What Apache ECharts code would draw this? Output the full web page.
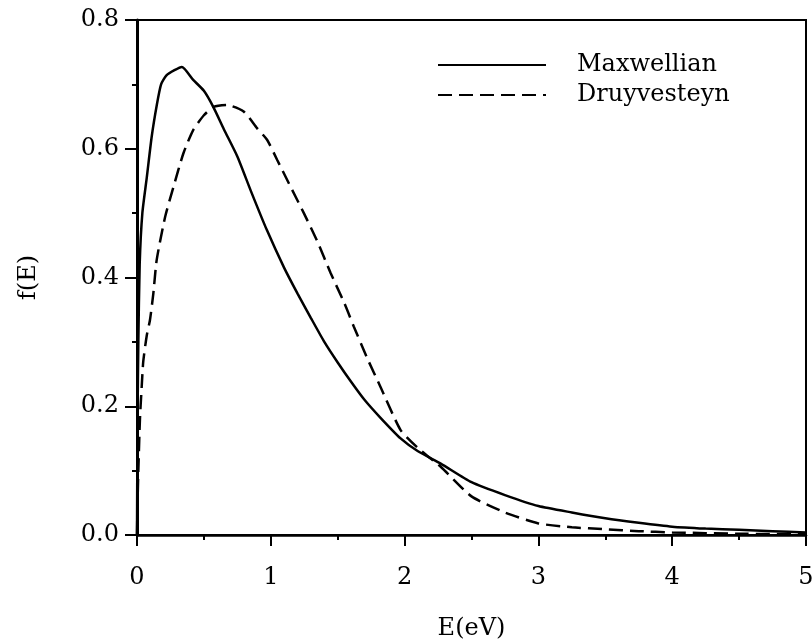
<!DOCTYPE html>
<html>
<head>
<meta charset="utf-8">
<script src="https://cdn.jsdelivr.net/npm/echarts@6/dist/echarts.min.js"></script>
<style>
html,body{margin:0;padding:0;background:#fff;}
#chart{width:812px;height:639px;}
</style>
</head>
<body>
<div id="chart"></div>
<script>
// Energy (eV) and distribution values
const maxE = [0, 0.004, 0.01, 0.02, 0.04, 0.073, 0.11, 0.148, 0.18, 0.22, 0.28, 0.335, 0.42, 0.5, 0.57, 0.65, 0.75, 0.85, 0.97, 1.1, 1.2, 1.3, 1.4, 1.5, 1.6, 1.7, 1.82, 1.97, 2.1, 2.27, 2.5, 2.75, 3.0, 3.25, 3.5, 3.75, 4.0, 4.25, 4.5, 4.75, 5.0];
const maxF = [0, 0.18, 0.30, 0.42, 0.50, 0.555, 0.619, 0.668, 0.70, 0.714, 0.722, 0.727, 0.707, 0.69, 0.665, 0.63, 0.588, 0.535, 0.474, 0.415, 0.375, 0.337, 0.30, 0.268, 0.238, 0.21, 0.182, 0.150, 0.13, 0.111, 0.082, 0.062, 0.045, 0.035, 0.026, 0.019, 0.013, 0.010, 0.008, 0.006, 0.004];
const druE = [0, 0.004, 0.01, 0.022, 0.035, 0.047, 0.073, 0.097, 0.122, 0.147, 0.21, 0.273, 0.347, 0.42, 0.5, 0.572, 0.672, 0.797, 0.897, 0.972, 1.047, 1.15, 1.247, 1.35, 1.447, 1.55, 1.62, 1.72, 1.82, 1.97, 2.1, 2.27, 2.5, 2.75, 3.0, 3.25, 3.5, 3.75, 4.0, 4.5, 5.0];
const druF = [0, 0.05, 0.10, 0.18, 0.23, 0.27, 0.31, 0.334, 0.375, 0.427, 0.494, 0.541, 0.593, 0.629, 0.652, 0.665, 0.668, 0.658, 0.632, 0.614, 0.583, 0.54, 0.50, 0.455, 0.407, 0.36, 0.324, 0.275, 0.23, 0.163, 0.135, 0.106, 0.06, 0.035, 0.018, 0.012, 0.009, 0.006, 0.004, 0.002, 0.001];
const seriesNames = ['Maxwellian', 'Druyvesteyn'];
const xTitle = 'E(eV)';
const yTitle = 'f(E)';

const font = 'DejaVu Serif';
const chart = echarts.init(document.getElementById('chart'));
const zip = (a, b) => a.map((v, i) => [v, b[i]]);

chart.setOption({
  backgroundColor: '#fff',
  animation: false,
  grid: {left: 137, right: 6, top: 20, bottom: 104, outerBoundsMode: 'none', containLabel: false,
         show: true, borderColor: '#000', borderWidth: 2, backgroundColor: 'transparent'},
  legend: {
    orient: 'vertical', left: 432, top: 48, itemWidth: 108, itemHeight: 14, itemGap: 6,
    itemStyle: {color: 'rgba(0,0,0,0)', borderWidth: 0, opacity: 0},
    textStyle: {fontFamily: font, fontSize: 24, color: '#000', lineHeight: 24, padding: [0, 0, 0, 26]},
    data: seriesNames
  },
  xAxis: {
    type: 'value', min: 0, max: 5, interval: 1,
    name: xTitle, nameLocation: 'middle', nameGap: 82,
    nameTextStyle: {fontFamily: font, fontSize: 24, color: '#000'},
    axisLine: {lineStyle: {color: '#000', width: 2.5}},
    axisTick: {inside: false, length: 11, lineStyle: {color: '#000', width: 2}},
    minorTick: {show: true, splitNumber: 2, length: 5, lineStyle: {color: '#000', width: 2}},
    axisLabel: {fontFamily: font, fontSize: 24, color: '#000', margin: 31},
    splitLine: {show: false}
  },
  yAxis: {
    type: 'value', min: 0, max: 0.8, interval: 0.2,
    name: yTitle, nameLocation: 'middle', nameGap: 96, nameRotate: 90,
    nameTextStyle: {fontFamily: font, fontSize: 24, color: '#000'},
    axisLine: {lineStyle: {color: '#000', width: 3}},
    axisTick: {inside: false, length: 12, lineStyle: {color: '#000', width: 2}},
    minorTick: {show: true, splitNumber: 2, length: 5, lineStyle: {color: '#000', width: 2}},
    axisLabel: {fontFamily: font, fontSize: 24, color: '#000', margin: 18, formatter: v => v.toFixed(1)},
    splitLine: {show: false}
  },
  series: [
    {name: seriesNames[0], type: 'line', data: zip(maxE, maxF), showSymbol: false, symbol: 'none',
     smooth: 0.2,
     lineStyle: {color: '#000', width: 2.5, type: 'solid'}, itemStyle: {color: '#000'}},
    {name: seriesNames[1], type: 'line', data: zip(druE, druF), showSymbol: false, symbol: 'none',
     smooth: 0.2,
     lineStyle: {color: '#000', width: 2.5, type: [14, 7]}, itemStyle: {color: '#000'}}
  ]
});
</script>
</body>
</html>
